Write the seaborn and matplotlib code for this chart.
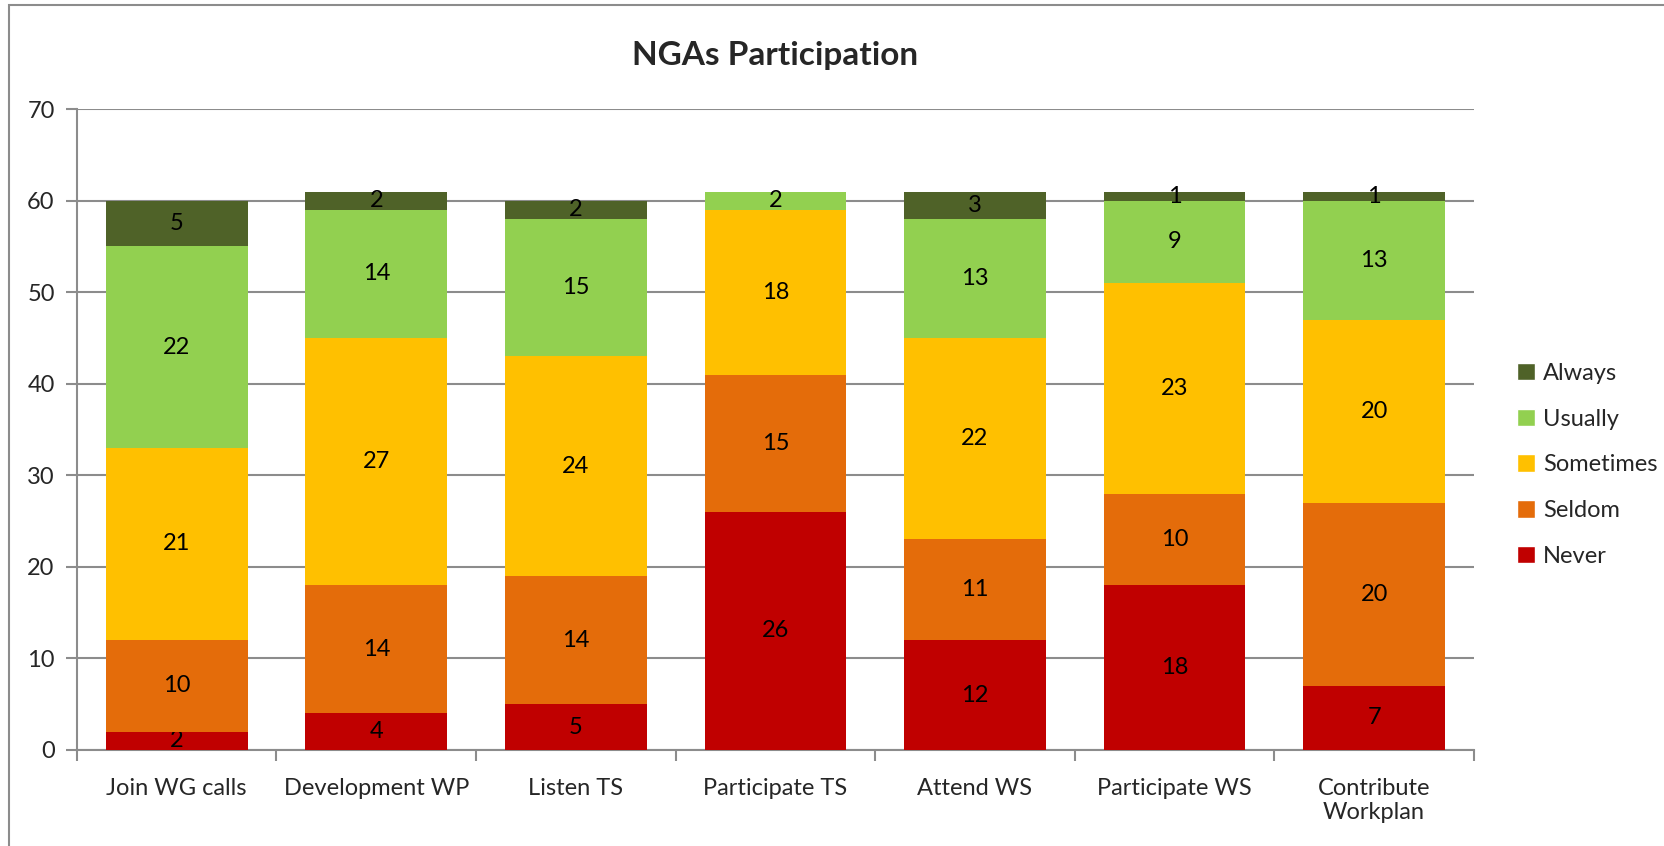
import numpy as np
import pandas as pd
import seaborn as sns
import matplotlib.pyplot as plt
from matplotlib.patches import Rectangle, Patch

# data
categories = ["Join WG calls", "Development WP", "Listen TS", "Participate TS",
              "Attend WS", "Participate WS", "Contribute\nWorkplan"]
never = [2, 4, 5, 26, 12, 18, 7]
seldom = [10, 14, 14, 15, 11, 10, 20]
sometimes = [21, 27, 24, 18, 22, 23, 20]
usually = [22, 14, 15, 2, 13, 9, 13]
always = [5, 2, 2, 0, 3, 1, 1]

series = ["Never", "Seldom", "Sometimes", "Usually", "Always"]
colors = ["#C00000", "#E46C0A", "#FFC000", "#92D050", "#4F6228"]


def main():
    sns.set_style("white")
    plt.rcParams["font.family"] = ["Lato", "DejaVu Sans"]

    fig = plt.figure(figsize=(16.65, 8.46), dpi=100)
    ax = fig.add_axes([0.0462, 0.1135, 0.8390, 0.7575])

    # outer chart border
    fig.patches.append(Rectangle((9 / 1665, -0.05), 1.1, 1 - 5 / 846 + 0.05,
                                 transform=fig.transFigure, fill=False,
                                 edgecolor="#8c8c8c", linewidth=1.5))

    values = [never, seldom, sometimes, usually, always]
    bottom = np.zeros(len(categories))
    for name, vals, col in zip(series, values, colors):
        sns.barplot(x=categories, y=vals, bottom=bottom, color=col,
                    saturation=1, width=0.71, linewidth=0, edgecolor="none",
                    ax=ax, label=name, zorder=3)
        cont = ax.containers[-1]
        labels = [str(v) if v > 0 else "" for v in vals]
        ax.bar_label(cont, labels=labels, label_type="center",
                     fontsize=17, color="black")
        bottom = bottom + np.array(vals)

    ax.set_ylim(0, 70)
    ax.set_yticks(range(0, 71, 10))
    ax.set_xlim(-0.5, len(categories) - 0.5)
    ax.yaxis.grid(True, color="#8c8c8c", linewidth=1.5, zorder=0)
    ax.set_axisbelow(True)

    for side in ["top", "right"]:
        ax.spines[side].set_visible(False)
    for side in ["left", "bottom"]:
        ax.spines[side].set_color("#8c8c8c")
        ax.spines[side].set_linewidth(1.5)

    # x ticks at category boundaries, labels centred
    ax.set_xticks(np.arange(-0.5, len(categories), 1.0))
    ax.set_xticklabels([])
    ax.set_xticks(range(len(categories)), minor=True)
    ax.set_xticklabels(categories, minor=True, fontsize=17)
    ax.tick_params(axis="x", which="major", length=8, width=1.5,
                   color="#8c8c8c", direction="out", bottom=True)
    ax.tick_params(axis="x", which="minor", length=0, pad=20)
    ax.tick_params(axis="y", length=8, width=1.5, color="#8c8c8c",
                   direction="out", left=True, labelsize=17, pad=8)

    ax.set_title("NGAs Participation", fontsize=24, fontweight="bold", pad=32)

    handles = [Patch(facecolor=c, label=s) for s, c in zip(series, colors)][::-1]
    ax.legend(handles=handles, loc="center left", bbox_to_anchor=(1.024, 0.445),
              frameon=False, fontsize=17, handlelength=0.75, handleheight=0.75,
              handletextpad=0.35, labelspacing=1.05, borderaxespad=0)

    fig.savefig("out.png", dpi=100)


if __name__ == "__main__":
    main()
